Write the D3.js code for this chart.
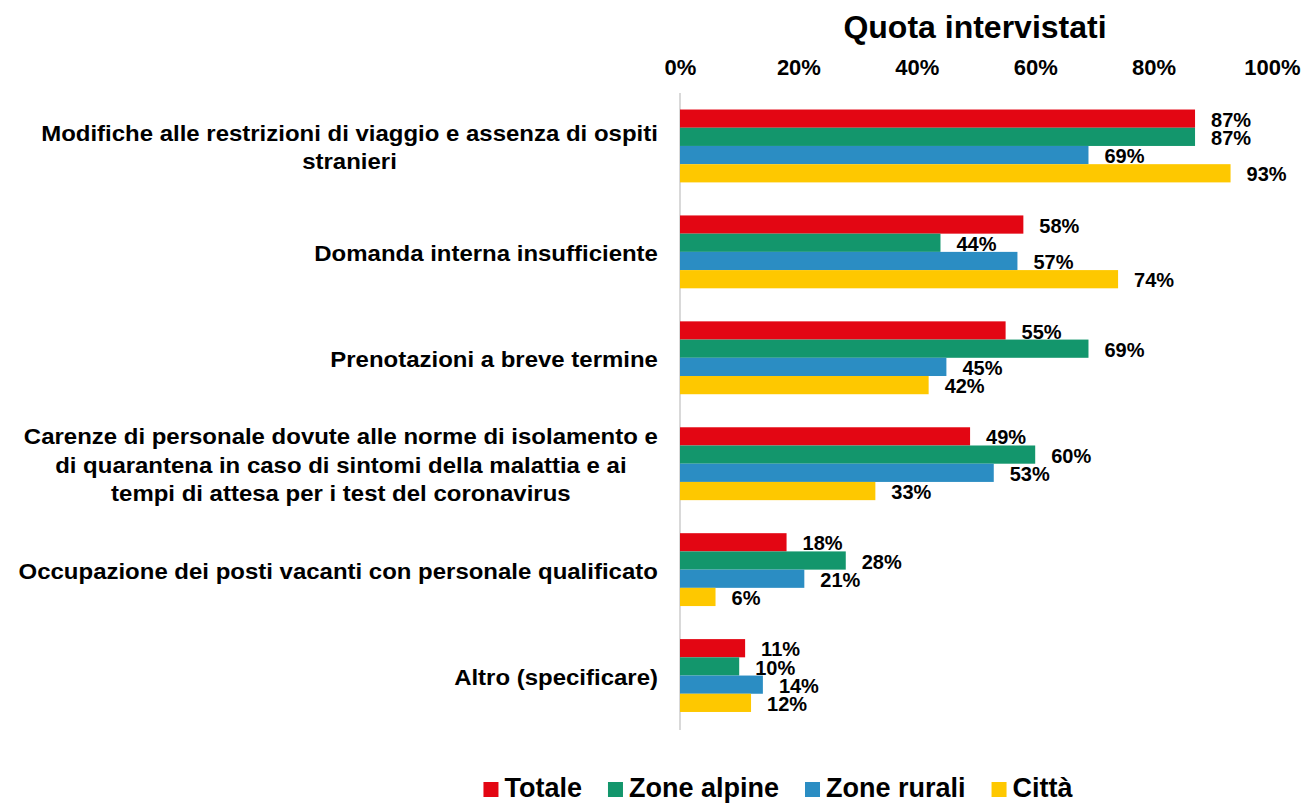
<!DOCTYPE html>
<html>
<head>
<meta charset="utf-8">
<script src="https://cdn.jsdelivr.net/npm/d3@7"></script>
<style>
  body { margin: 0; background: #fff; }
  svg text { font-family: "Liberation Sans", Arial, sans-serif; font-weight: bold; fill: #000; }
</style>
</head>
<body>
<script>
// data
var categories = [
  ["Modifiche alle restrizioni di viaggio e assenza di ospiti", "stranieri"],
  ["Domanda interna insufficiente"],
  ["Prenotazioni a breve termine"],
  ["Carenze di personale dovute alle norme di isolamento e", "di quarantena in caso di sintomi della malattia e ai", "tempi di attesa per i test del coronavirus"],
  ["Occupazione dei posti vacanti con personale qualificato"],
  ["Altro (specificare)"]
];
var seriesNames = ["Totale", "Zone alpine", "Zone rurali", "Città"];
var totale     = [87, 58, 55, 49, 18, 11];
var zoneAlpine = [87, 44, 69, 60, 28, 10];
var zoneRurali = [69, 57, 45, 53, 21, 14];
var citta      = [93, 74, 42, 33, 6, 12];
var tickValues = [0, 20, 40, 60, 80, 100];
var colors = ["#e30613", "#13966c", "#2b8dc3", "#fec800"];

var seriesValues = [totale, zoneAlpine, zoneRurali, citta];

var W = 1303, H = 805;
var svg = d3.select("body").append("svg")
            .attr("width", W)
            .attr("height", H);

// scales
var xScale = d3.scaleLinear().domain([0, 100]).range([680, 1272]);
var yScale = d3.scaleBand()
               .domain(d3.range(categories.length))
               .range([93, 728.5]);
var gap = yScale.bandwidth() * 0.156;
var ySub = d3.scaleBand()
             .domain(d3.range(seriesNames.length))
             .range([gap, yScale.bandwidth() - gap]);

// title
svg.append("text")
   .attr("x", 975)
   .attr("y", 38)
   .attr("text-anchor", "middle")
   .style("font-size", "32px")
   .text("Quota intervistati");

// top axis labels
var xAxis = d3.axisTop(xScale)
              .tickValues(tickValues)
              .tickSize(0)
              .tickPadding(0)
              .tickFormat(function(d) { return d + "%"; });
var axisG = svg.append("g")
   .attr("transform", "translate(0,75)")
   .call(xAxis);
axisG.select(".domain").remove();
axisG.selectAll("text")
     .style("font-size", "22px")
     .style("font-family", "'Liberation Sans', Arial, sans-serif")
     .attr("dy", 0);

// vertical axis line
svg.append("line")
   .attr("x1", xScale(0)).attr("x2", xScale(0))
   .attr("y1", 93).attr("y2", 730)
   .attr("stroke", "#d9d9d9")
   .attr("stroke-width", 2);

// bars
var groups = svg.selectAll(".grp")
   .data(categories)
   .enter().append("g")
   .attr("class", "grp")
   .attr("transform", function(d, i) { return "translate(0," + yScale(i) + ")"; });

groups.each(function(cat, ci) {
  var g = d3.select(this);
  seriesValues.forEach(function(vals, si) {
    g.append("rect")
     .attr("x", xScale(0))
     .attr("y", ySub(si))
     .attr("width", xScale(vals[ci]) - xScale(0))
     .attr("height", ySub.bandwidth())
     .attr("fill", colors[si]);
  });
  seriesValues.forEach(function(vals, si) {
    g.append("text")
     .attr("x", xScale(vals[ci]) + 16)
     .attr("y", ySub(si) + ySub.bandwidth() - 1)
     .style("font-size", "20px")
     .text(vals[ci] + "%");
  });
});

// category labels (centered lines, block right-aligned, slightly stretched)
var lineH = 28.5, sx = 1.09;
groups.each(function(lines, ci) {
  var g = d3.select(this);
  var t = g.append("text")
           .attr("text-anchor", "middle")
           .style("font-size", "22px");
  var spans = lines.map(function(l, li) {
    return t.append("tspan")
            .attr("x", 0)
            .attr("y", yScale.bandwidth() / 2 + (li - (lines.length - 1) / 2) * lineH + 9)
            .text(l);
  });
  var maxW = d3.max(spans, function(s) { return s.node().getComputedTextLength(); });
  t.attr("transform", "translate(" + (658 - maxW * sx / 2) + ",0) scale(" + sx + ",1)");
});

// legend
var legend = svg.append("g");
var lx = 0;
seriesNames.forEach(function(name, i) {
  var item = legend.append("g").attr("transform", "translate(" + lx + ",0)");
  item.append("rect")
      .attr("x", 0).attr("y", -15)
      .attr("width", 15).attr("height", 15)
      .attr("fill", colors[i]);
  var txt = item.append("text")
      .attr("x", 21).attr("y", 0)
      .style("font-size", "27px")
      .text(name);
  lx += 21 + txt.node().getComputedTextLength() + 26;
});
lx -= 26;
legend.attr("transform", "translate(" + (778 - lx / 2) + ",797)");
</script>
</body>
</html>
